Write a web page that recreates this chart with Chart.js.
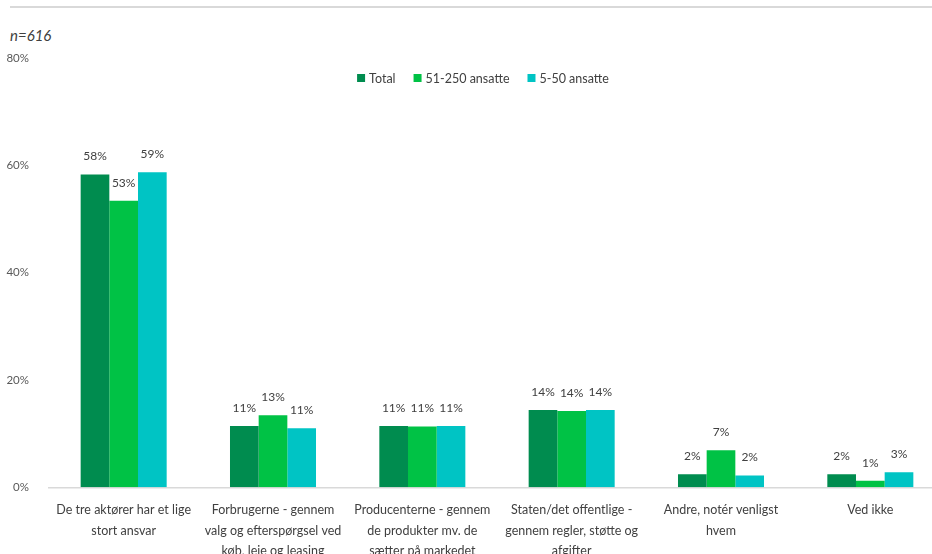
<!DOCTYPE html>
<html>
<head>
<meta charset="utf-8">
<script src="https://cdn.jsdelivr.net/npm/chart.js@4"></script>
<style>
  html, body { margin: 0; padding: 0; background: #fff; overflow: hidden; }
  #wrap { position: relative; width: 932px; height: 554px; overflow: hidden; }
  #topline { position: absolute; left: 10px; top: 6px; width: 922px; height: 2px; background: #d9d9d9; }
  #n { position: absolute; left: 10px; top: 26px; font: italic 15px 'Lato', sans-serif; color: #404040; }
  #box { position: absolute; left: 0; top: 0; width: 960px; height: 566px; }
</style>
</head>
<body>
<div id="wrap">
  <div id="topline"></div>
  <div id="n">n=616</div>
  <div id="box"><canvas id="c"></canvas></div>
</div>
<script>
// ── DATA ──────────────────────────────────────────────────────────────────
const categories = [
  ['De tre aktører har et lige', 'stort ansvar'],
  ['Forbrugerne - gennem', 'valg og efterspørgsel ved', 'køb, leje og leasing'],
  ['Producenterne - gennem', 'de produkter mv. de', 'sætter på markedet'],
  ['Staten/det offentlige -', 'gennem regler, støtte og', 'afgifter'],
  ['Andre, notér venligst', 'hvem'],
  ['Ved ikke']
];
const seriesNames = ['Total', '51-250 ansatte', '5-50 ansatte'];
const total     = [58.3, 11.4, 11.4, 14.4, 2.4, 2.4];
const mid       = [53.4, 13.4, 11.3, 14.2, 6.9, 1.2];
const small     = [58.7, 11.0, 11.4, 14.4, 2.2, 2.8];
const yTicks    = [0, 20, 40, 60, 80];

const colors = ['#008c4f', '#00c245', '#00c4c4'];
const FONT = 'Lato';

// ── PLUGINS ───────────────────────────────────────────────────────────────
const barLabels = {
  id: 'barLabels',
  afterDatasetsDraw(chart) {
    const ctx = chart.ctx;
    ctx.save();
    ctx.font = '12px ' + FONT;
    ctx.fillStyle = '#404040';
    ctx.textAlign = 'center';
    ctx.textBaseline = 'bottom';
    chart.data.datasets.forEach(function(ds, i) {
      chart.getDatasetMeta(i).data.forEach(function(bar, j) {
        ctx.fillText(Math.round(ds.data[j]) + '%', bar.x, bar.y - 12);
      });
    });
    ctx.restore();
  }
};

// legend sits inside the plot, below the 80% line
const innerLegend = {
  id: 'innerLegend',
  afterDraw(chart) {
    const ctx = chart.ctx;
    const box = 8, gap = 4, spacing = 18, y = 78;
    ctx.save();
    ctx.font = '12.5px ' + FONT;
    ctx.textBaseline = 'middle';
    const widths = chart.data.datasets.map(function(ds) { return ctx.measureText(ds.label).width; });
    let w = 0;
    widths.forEach(function(tw) { w += box + gap + tw; });
    w += spacing * (widths.length - 1);
    let x = chart.width / 2 - w / 2 + 3;
    chart.data.datasets.forEach(function(ds, i) {
      ctx.fillStyle = ds.backgroundColor;
      ctx.fillRect(x, y - box / 2, box, box);
      ctx.fillStyle = '#404040';
      ctx.fillText(ds.label, x + box + gap, y + 1);
      x += box + gap + widths[i] + spacing;
    });
    ctx.restore();
  }
};

// ── CHART ─────────────────────────────────────────────────────────────────
new Chart(document.getElementById('c'), {
  type: 'bar',
  data: {
    labels: categories,
    datasets: [total, mid, small].map(function(d, i) {
      return {
        label: seriesNames[i],
        data: d,
        backgroundColor: colors[i],
        categoryPercentage: 0.576,
        barPercentage: 1.0
      };
    })
  },
  options: {
    responsive: true,
    maintainAspectRatio: false,
    animation: false,
    layout: { padding: { top: 58, right: 15, left: 0, bottom: 0 } },
    plugins: {
      legend: { display: false },
      tooltip: { enabled: false }
    },
    scales: {
      x: {
        grid: { display: false },
        border: { color: '#d9d9d9', width: 1.5 },
        ticks: {
          color: '#404040',
          padding: 5,
          maxRotation: 0,
          autoSkip: false,
          font: { family: FONT, size: 12.5, lineHeight: 1.62 }
        }
      },
      y: {
        min: 0,
        max: 80,
        grid: { display: false },
        border: { display: false },
        afterBuildTicks: function(axis) {
          axis.ticks = yTicks.map(function(v) { return { value: v }; });
        },
        afterFit: function(axis) { axis.width = 49; },
        ticks: {
          color: '#595959',
          padding: 12,
          font: { family: FONT, size: 11.5 },
          callback: function(v) { return v + '%'; }
        }
      }
    }
  },
  plugins: [barLabels, innerLegend]
});
</script>
</body>
</html>
